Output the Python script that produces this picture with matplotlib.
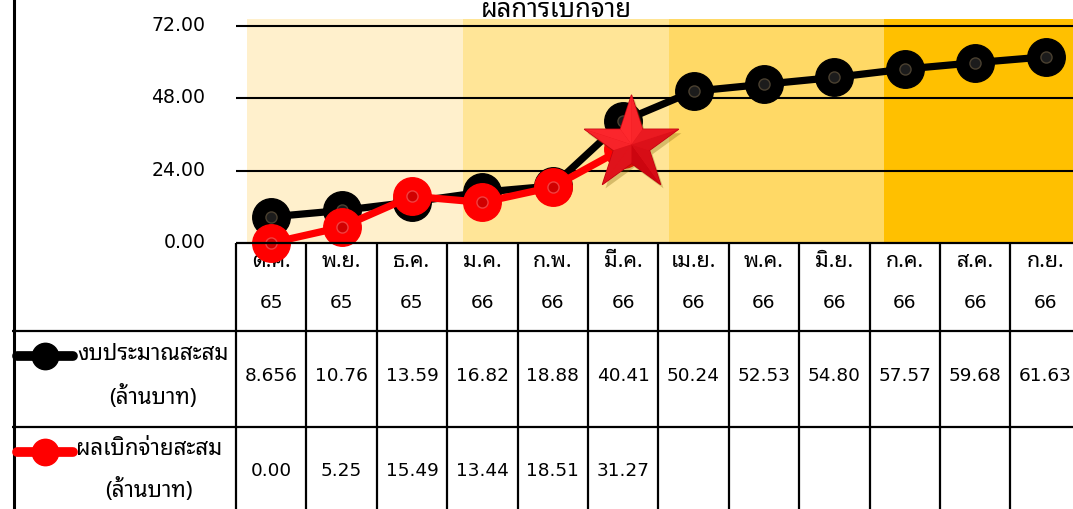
import matplotlib
matplotlib.use("Agg")
import matplotlib.pyplot as plt
import numpy as np
from matplotlib import font_manager
from matplotlib.path import Path
from matplotlib.transforms import ScaledTranslation

# ---------------- data ----------------
months = ['ต.ค.', 'พ.ย.', 'ธ.ค.', 'ม.ค.', 'ก.พ.', 'มี.ค.',
          'เม.ย.', 'พ.ค.', 'มิ.ย.', 'ก.ค.', 'ส.ค.', 'ก.ย.']
years = ['65', '65', '65', '66', '66', '66', '66', '66', '66', '66', '66', '66']
budget = [8.656, 10.76, 13.59, 16.82, 18.88, 40.41, 50.24, 52.53, 54.80, 57.57, 59.68, 61.63]
budget_text = ['8.656', '10.76', '13.59', '16.82', '18.88', '40.41',
               '50.24', '52.53', '54.80', '57.57', '59.68', '61.63']
disbursed = [0.00, 5.25, 15.49, 13.44, 18.51, 31.27]
disbursed_text = ['0.00', '5.25', '15.49', '13.44', '18.51', '31.27']
yticks = [0, 24, 48, 72]
title = 'ผลการเบิกจ่าย'
series1_name = 'งบประมาณสะสม'
series2_name = 'ผลเบิกจ่ายสะสม'
unit_name = '(ล้านบาท)'

# ---------------- fonts ----------------
available = {f.name for f in font_manager.fontManager.ttflist}
thai_font = 'DejaVu Sans'
for cand in ['Tahoma', 'Noto Sans Thai Looped', 'Sarabun', 'IBM Plex Sans Thai Looped',
             'Noto Sans Thai', 'Anuphan', 'Bai Jamjuree']:
    if cand in available:
        thai_font = cand
        break
plt.rcParams['font.family'] = ['DejaVu Sans', thai_font]
THAI = [thai_font, 'DejaVu Sans']
TS = 16  # Thai text size

# ---------------- layout (pixels) ----------------
W, H = 1073, 510
col0, colw = 235.9, 70.4
y0px, ytop = 244.0, 20.0
pxu = (244.0 - 26.5) / 72.0

fig = plt.figure(figsize=(W / 100, H / 100), dpi=100)
ax = fig.add_axes([col0 / W, (H - y0px) / H, 12 * colw / W, (y0px - ytop) / H])
ax.set_xlim(-0.5, 11.5)
ax.set_ylim(0, (y0px - ytop) / pxu)
for s in ax.spines.values():
    s.set_visible(False)


def X(px):
    return (px - col0) / colw - 0.5


def Y(py):
    return (y0px - py) / pxu


# background quarter bands
bands = [(247, 462.5, '#FFF0CC'), (462.5, 668.5, '#FFE597'),
         (668.5, 884, '#FFD966'), (884, 1090, '#FFC000')]
for a, b, c in bands:
    ax.axvspan(X(a), X(b), color=c, zorder=0, lw=0)

# gridlines / ticks
ax.set_xticks([])
ax.set_yticks(yticks)
ax.set_yticklabels(['%.2f' % v for v in yticks], fontsize=13.6)
ax.tick_params(axis='y', length=0, pad=22)
for lab in ax.get_yticklabels():
    lab.set_transform(lab.get_transform() + ScaledTranslation(0, 3 / 100, fig.dpi_scale_trans))
for v in yticks[1:]:
    ax.axhline(v, color='black', lw=1.5, zorder=1)

# series
xs1 = np.arange(len(budget))
xs2 = np.arange(len(disbursed))
ax.plot(xs1, budget, color='black', lw=5.2, marker='o', ms=27, mfc='black', mec='black',
        zorder=3, clip_on=False, solid_capstyle='round')
ax.plot(xs1, budget, ls='none', marker='o', ms=8, mfc='#1c1c1c', mec='#4a4030', mew=1,
        zorder=3.1, clip_on=False)
ax.plot(xs2, disbursed, color='#FF0000', lw=5.2, marker='o', ms=27, mfc='#FF0000', mec='#FF0000',
        zorder=4, clip_on=False, solid_capstyle='round')
ax.plot(xs2, disbursed, ls='none', marker='o', ms=8, mfc='#D00000', mec='#F04040', mew=1,
        zorder=4.1, clip_on=False)

# 3D star at latest disbursement
R, r = 1.0, 0.382
facets = []
for i in range(5):
    th = np.deg2rad(90 + 72 * i)
    tip = (R * np.cos(th), R * np.sin(th))
    for sgn in (-1, 1):
        ti = th + sgn * np.deg2rad(36)
        inn = (r * np.cos(ti), r * np.sin(ti))
        ang = np.arctan2(tip[1] + inn[1], tip[0] + inn[0])
        light = 0.5 + 0.5 * np.cos(ang - np.deg2rad(120))
        if sgn > 0:
            light = light * 0.8 + 0.2
        verts = [(0, 1), (0, 0), tip, inn, (0, 0)]
        codes = [Path.MOVETO, Path.MOVETO, Path.LINETO, Path.LINETO, Path.CLOSEPOLY]
        facets.append((Path(verts, codes), light))
star_verts = [(0, 1)]
for i in range(10):
    rad = R if i % 2 == 0 else r
    th = np.deg2rad(90 + 36 * i)
    star_verts.append((rad * np.cos(th), rad * np.sin(th)))
star_verts.append((0, 0))
star_codes = [Path.MOVETO, Path.MOVETO] + [Path.LINETO] * 9 + [Path.CLOSEPOLY]
star_path = Path(star_verts, star_codes)
sx, sy = xs2[-1], disbursed[-1]
star_off = ScaledTranslation(8 / 100, 5 / 100, fig.dpi_scale_trans)
shadow = ax.plot([sx], [sy], marker=star_path, ms=71, mfc='#7a5a00', mec='none', alpha=0.3,
                 zorder=4.5, ls='none')[0]
shadow.set_transform(ax.transData + ScaledTranslation(11 / 100, 1 / 100, fig.dpi_scale_trans))
base = ax.plot([sx], [sy], marker=star_path, ms=71, mfc='#E8101A', mec='#C00010', mew=1,
               zorder=5, ls='none')[0]
base.set_transform(ax.transData + star_off)
for p, light in facets:
    c = np.array([0.80, 0.02, 0.06]) * (1 - light) + np.array([1.0, 0.16, 0.18]) * light
    f = ax.plot([sx], [sy], marker=p, ms=71, mfc=c, mec='none', zorder=5.1, ls='none')[0]
    f.set_transform(ax.transData + star_off)

# ---------------- table ----------------
LW = 1.6


def hline(py, xa, xb, lw=LW):
    ax.plot([X(xa), X(xb)], [Y(py), Y(py)], color='black', lw=lw, clip_on=False, zorder=6,
            solid_capstyle='butt')


def vline(px, ya, yb, lw=LW):
    ax.plot([X(px), X(px)], [Y(ya), Y(yb)], color='black', lw=lw, clip_on=False, zorder=6,
            solid_capstyle='butt')


hline(y0px, col0, 1090)
hline(331.6, 12, 1090)
hline(428.0, 12, 1090)
vline(14, -5, 520, lw=2.2)
for k in range(13):
    vline(col0 + colw * k, y0px, 520)

for i in range(12):
    ax.text(i, Y(262), months[i], ha='center', va='center', fontsize=15.5, family=THAI,
            clip_on=False)
    ax.text(i, Y(303), years[i], ha='center', va='center', fontsize=13.3, clip_on=False)
    ax.text(i, Y(376), budget_text[i], ha='center', va='center', fontsize=13.3, clip_on=False)
for i in range(len(disbursed_text)):
    ax.text(i, Y(471), disbursed_text[i], ha='center', va='center', fontsize=13.3, clip_on=False)

# legend keys in table
ax.plot([X(17), X(73)], [Y(357), Y(357)], color='black', lw=7, solid_capstyle='round',
        clip_on=False, zorder=6)
ax.plot([X(45)], [Y(357)], 'o', ms=19, color='black', clip_on=False, zorder=6)
ax.plot([X(17), X(73)], [Y(453), Y(453)], color='#FF0000', lw=7, solid_capstyle='round',
        clip_on=False, zorder=6)
ax.plot([X(45)], [Y(453)], 'o', ms=19, color='#FF0000', clip_on=False, zorder=6)
ax.text(X(77), Y(355), series1_name, ha='left', va='center', fontsize=TS, family=THAI,
        clip_on=False)
ax.text(X(153), Y(397), unit_name, ha='center', va='center', fontsize=TS, family=THAI,
        clip_on=False)
ax.text(X(76), Y(450), series2_name, ha='left', va='center', fontsize=TS, family=THAI,
        clip_on=False)
ax.text(X(149), Y(490), unit_name, ha='center', va='center', fontsize=TS, family=THAI,
        clip_on=False)

fig.text(556 / W, 1 - 17 / H, title, ha='center', va='baseline', fontsize=18.5, family=THAI)

fig.savefig('out.png', dpi=100)
